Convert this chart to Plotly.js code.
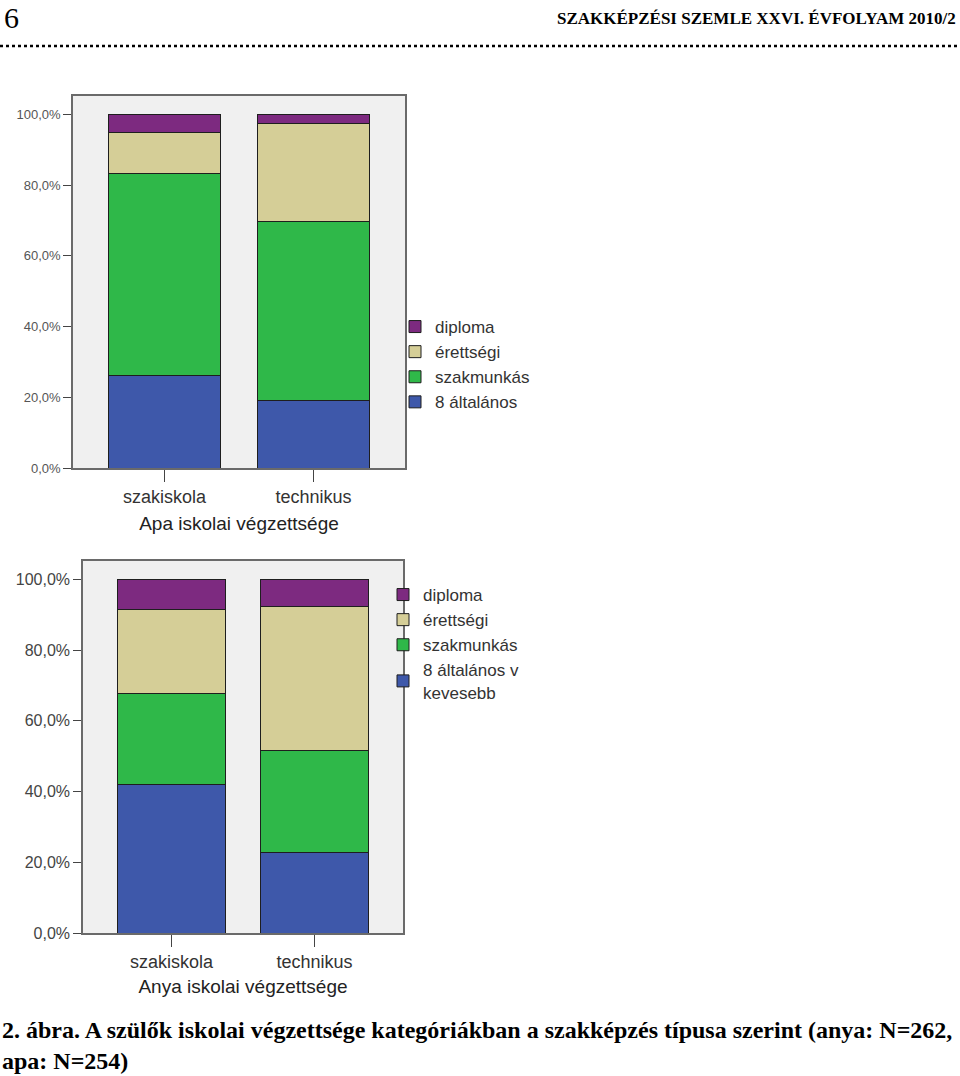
<!DOCTYPE html>
<html>
<head>
<meta charset="utf-8">
<script src="https://cdn.plot.ly/plotly-3.0.1.min.js"></script>
<style>html,body{margin:0;padding:0;background:#fff;}#chart{width:960px;height:1076px;}</style>
</head>
<body>
<div id="chart"></div>
<script>
// ---- data ----
var categories = ["szakiskola", "technikus"];
var seriesNames = ["8 általános", "szakmunkás", "érettségi", "diploma"];
var seriesNamesAnya = ["8 általános v<br>kevesebb", "szakmunkás", "érettségi", "diploma"];
// Apa (father) – percentage per category
var apa8altalanos = [26.2, 19.1];
var apaSzakmunkas = [57.1, 50.6];
var apaErettsegi  = [11.5, 27.6];
var apaDiploma    = [5.2, 2.7];
// Anya (mother)
var anya8altalanos = [41.9, 22.8];
var anyaSzakmunkas = [25.8, 28.8];
var anyaErettsegi  = [23.9, 40.6];
var anyaDiploma    = [8.4, 7.8];
var yTickVals = [0, 20, 40, 60, 80, 100];
var yTickText = yTickVals.map(function (v) { return v.toFixed(1).replace(".", ",") + "%"; });

var colors = ["#3e58aa", "#2fb849", "#d5ce97", "#7d2a80"];

var apaSeries = [apa8altalanos, apaSzakmunkas, apaErettsegi, apaDiploma];
var anyaSeries = [anya8altalanos, anyaSzakmunkas, anyaErettsegi, anyaDiploma];

var traces = [];
apaSeries.forEach(function (vals, i) {
  traces.push({
    type: "bar", x: categories, y: vals, name: seriesNames[i],
    xaxis: "x", yaxis: "y", legend: "legend",
    width: 0.75,
    marker: {color: colors[i], line: {color: "#1e1e1e", width: 1}},
    hoverinfo: "y+name"
  });
});
anyaSeries.forEach(function (vals, i) {
  traces.push({
    type: "bar", x: categories, y: vals, name: seriesNamesAnya[i],
    xaxis: "x2", yaxis: "y2", legend: "legend2",
    width: 0.755,
    marker: {color: colors[i], line: {color: "#1e1e1e", width: 1}},
    hoverinfo: "y+name"
  });
});

var H = 1076, W = 960;
function py(p) { return (H - p) / H; }
function px(p) { return p / W; }

var axisCommon = {
  showline: true, mirror: true, linecolor: "#6a6a6a", linewidth: 1.5,
  showgrid: false, zeroline: false, ticks: "outside", tickcolor: "#444", tickwidth: 1
};

var layout = {
  width: W, height: H,
  margin: {l: 0, r: 0, t: 0, b: 0},
  paper_bgcolor: "#ffffff",
  plot_bgcolor: "#f0f0f0",
  barmode: "stack",
  showlegend: true,
  font: {family: "Liberation Sans, Arial, sans-serif", color: "#333"},
  xaxis: Object.assign({}, axisCommon, {
    domain: [px(73), px(405)], anchor: "y",
    range: [-0.614, 1.614], ticklen: 12,
    tickfont: {size: 18, color: "#333"},
    title: {text: "Apa iskolai végzettsége", font: {size: 19, color: "#222"}, standoff: 10}
  }),
  yaxis: Object.assign({}, axisCommon, {
    domain: [py(468), py(96)], anchor: "x",
    range: [0, 105.2], tickmode: "array", tickvals: yTickVals, ticktext: yTickText,
    ticklen: 8, tickfont: {size: 13, color: "#555"}
  }),
  xaxis2: Object.assign({}, axisCommon, {
    domain: [px(83), px(403)], anchor: "y2",
    range: [-0.619, 1.619], ticklen: 12,
    tickfont: {size: 18, color: "#333"},
    title: {text: "Anya iskolai végzettsége", font: {size: 19, color: "#222"}, standoff: 8}
  }),
  yaxis2: Object.assign({}, axisCommon, {
    domain: [py(933), py(561)], anchor: "x2",
    range: [0, 105.2], tickmode: "array", tickvals: yTickVals, ticktext: yTickText,
    ticklen: 8, tickfont: {size: 16, color: "#444"}
  }),
  legend: {
    x: px(395), xanchor: "left", y: py(309), yanchor: "top",
    traceorder: "reversed", bgcolor: "rgba(0,0,0,0)",
    font: {size: 17, color: "#333"}, tracegroupgap: 0
  },
  legend2: {
    x: px(383), xanchor: "left", y: py(577), yanchor: "top",
    traceorder: "reversed", bgcolor: "rgba(0,0,0,0)",
    font: {size: 17, color: "#333"}, tracegroupgap: 0
  },
  shapes: [
    {type: "line", xref: "paper", yref: "paper", x0: 0, x1: 1, y0: py(46), y1: py(46),
     line: {color: "#000", width: 2.5, dash: "dot"}}
  ],
  annotations: [
    {text: "6", xref: "paper", yref: "paper", x: px(2), y: py(17), xanchor: "left", yanchor: "middle",
     showarrow: false, font: {family: "Liberation Serif, serif", size: 30, color: "#000"}},
    {text: "SZAKKÉPZÉSI SZEMLE XXVI. ÉVFOLYAM 2010/2", xref: "paper", yref: "paper",
     x: px(958), y: py(18), xanchor: "right", yanchor: "middle", showarrow: false,
     font: {family: "Liberation Serif, serif", size: 17, weight: "bold", color: "#000"}},
    {text: "2. ábra. A szülők iskolai végzettsége kategóriákban a szakképzés típusa szerint (anya: N=262,",
     xref: "paper", yref: "paper", x: 0, y: py(1030), xanchor: "left", yanchor: "middle", showarrow: false,
     font: {family: "Liberation Serif, serif", size: 24, weight: "bold", color: "#000"}},
    {text: "apa: N=254)", xref: "paper", yref: "paper", x: 0, y: py(1061), xanchor: "left", yanchor: "middle",
     showarrow: false, font: {family: "Liberation Serif, serif", size: 24, weight: "bold", color: "#000"}}
  ]
};

Plotly.newPlot("chart", traces, layout, {displayModeBar: false, responsive: false});
</script>
</body>
</html>
